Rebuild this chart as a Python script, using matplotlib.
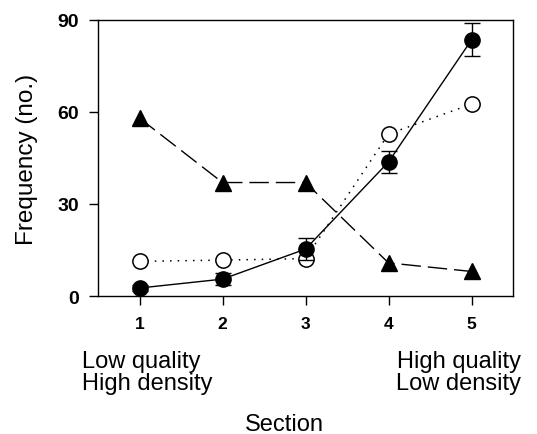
import matplotlib
matplotlib.use('Agg')
import matplotlib.pyplot as plt

plt.rcParams['font.family'] = ['Liberation Sans', 'DejaVu Sans']

sections = [1, 2, 3, 4, 5]
filled = [2.6, 5.5, 15.3, 43.7, 83.5]
filled_err = [1.0, 2.0, 3.6, 3.5, 5.4]
open_circ = [11.3, 11.7, 12.2, 52.8, 62.6]
triangles = [58, 37, 37, 10.8, 8]

left_note = ['Low quality', 'High density']
right_note = ['High quality', 'Low density']

fig = plt.figure(figsize=(5.37, 4.35), dpi=100)
ax = fig.add_axes([98 / 537, 1 - 297 / 435, 415 / 537, 276 / 435])

ax.plot(sections, triangles, color='black', linestyle=(0, (14, 5)), linewidth=1,
        marker='^', markersize=11, zorder=2)
ax.plot(sections, open_circ, color='black', linestyle=(0, (1, 4)), linewidth=1.1,
        marker='o', markersize=11, markerfacecolor='white', markeredgewidth=1.1, zorder=3)
ax.errorbar(sections, filled, yerr=filled_err, color='black', linestyle='-', linewidth=1,
            marker='o', markersize=11, capsize=6, elinewidth=1, capthick=1, zorder=4)

ax.set_xlim(0.5, 5.5)
ax.set_ylim(0, 90)
ax.set_xticks(sections)
ax.set_yticks([0, 30, 60, 90])
ax.tick_params(direction='out', length=6.5, width=1)
ax.tick_params(axis='x', labelsize=12.5, pad=8)
ax.tick_params(axis='y', labelsize=14, pad=7)
for lab in ax.get_xticklabels() + ax.get_yticklabels():
    lab.set_fontweight('bold')
for s in ax.spines.values():
    s.set_linewidth(1)

ax.set_ylabel('Frequency (no.)', fontsize=17.5, labelpad=14)

# notes under the axis
for i, (l, r) in enumerate(zip(left_note, right_note)):
    y = 1 - (368 + 22 * i) / 435
    fig.text(82 / 537, y, l, fontsize=17, ha='left', va='baseline')
    fig.text(521 / 537, y, r, fontsize=17, ha='right', va='baseline')
fig.text(284 / 537, 1 - 431 / 435, 'Section', fontsize=17, ha='center', va='baseline')

fig.savefig('out.png', dpi=100)
